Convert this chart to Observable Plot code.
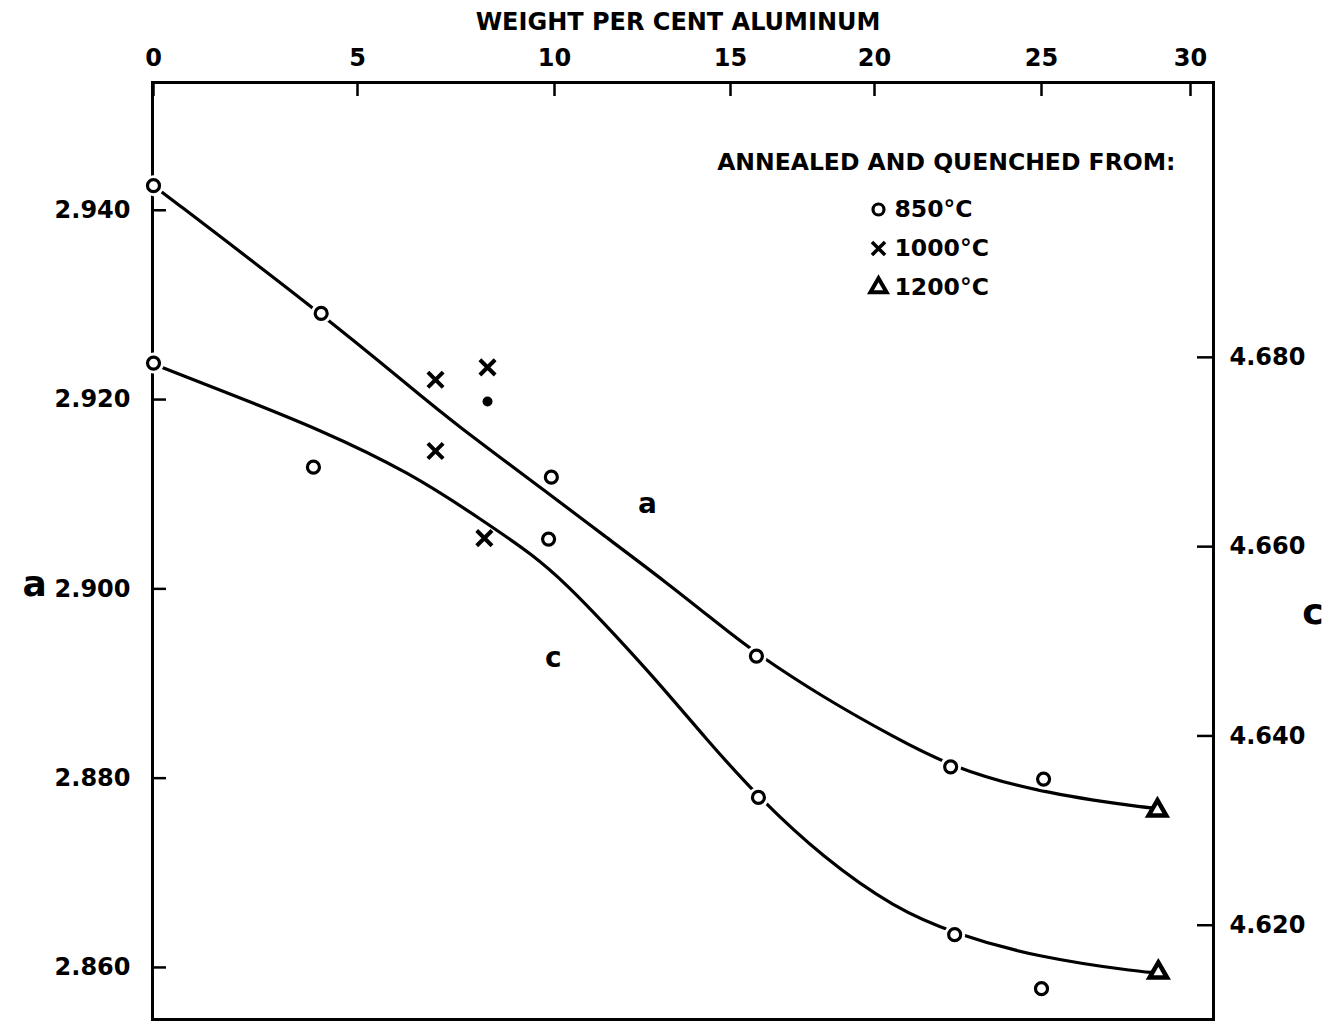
<!DOCTYPE html>
<html><head><meta charset="utf-8">
<script src="https://cdn.jsdelivr.net/npm/d3@7"></script>
<script src="https://cdn.jsdelivr.net/npm/@observablehq/plot@0.6"></script>
<style>html,body{margin:0;padding:0;background:#fff;} #chart svg{display:block;}</style>
</head><body><div id="chart"></div>
<script>
// ---- axis ticks ----
const xTicks = [0, 5, 10, 15, 20, 25, 30];            // weight per cent aluminum
const aTicks = [2.860, 2.880, 2.900, 2.920, 2.940];   // left axis (a)
const cTicks = [4.620, 4.640, 4.660, 4.680];          // right axis (c)
const C_OFFSET = 1.75554;  // c value minus a value at the same height

// ---- measured points: w = wt.% Al, v = lattice parameter ----
const a850 = [
  {w: 0, v: 2.9426}, {w: 4.11, v: 2.9291}, {w: 9.92, v: 2.9118},
  {w: 15.9, v: 2.8929}, {w: 22.28, v: 2.8812}, {w: 25.07, v: 2.8799}
];
const c850 = [
  {w: 0, v: 4.6794}, {w: 3.92, v: 4.6684}, {w: 9.85, v: 4.6608},
  {w: 15.97, v: 4.6335}, {w: 22.4, v: 4.6190}, {w: 25.0, v: 4.6133}
];
const a1000 = [{w: 6.98, v: 2.9221}, {w: 8.30, v: 2.9234}];
const c1000 = [{w: 6.98, v: 4.6701}, {w: 8.22, v: 4.6609}];
const blot1000 = [{w: 8.30, v: 2.9198}];
const a1200 = [{w: 28.89, v: 2.8766}];
const c1200 = [{w: 28.92, v: 4.6150}];

// ---- fitted curves ----
const curveA = [
  {w: 0, v: 2.9426}, {w: 4.11, v: 2.9291}, {w: 6.35, v: 2.9213}, {w: 7.36, v: 2.9178},
  {w: 9.97, v: 2.9097}, {w: 11.31, v: 2.9059}, {w: 13.21, v: 2.9006}, {w: 14.72, v: 2.8961},
  {w: 15.83, v: 2.8933}, {w: 18.23, v: 2.8885}, {w: 20.60, v: 2.8843}, {w: 22.28, v: 2.8812},
  {w: 24.88, v: 2.8785}, {w: 28.46, v: 2.8769}, {w: 28.89, v: 2.8768}
];
const curveC = [
  {w: 0, v: 4.6793}, {w: 1.95, v: 4.6760}, {w: 4.01, v: 4.6725}, {w: 6.35, v: 4.6678},
  {w: 8.20, v: 4.6627}, {w: 9.47, v: 4.6591}, {w: 10.37, v: 4.6559}, {w: 11.31, v: 4.6523},
  {w: 12.73, v: 4.6466}, {w: 14.35, v: 4.6395}, {w: 15.97, v: 4.6335}, {w: 18.23, v: 4.6271},
  {w: 20.60, v: 4.6218}, {w: 22.40, v: 4.6191}, {w: 24.88, v: 4.6166}, {w: 28.46, v: 4.6150},
  {w: 28.89, v: 4.6150}
];

// ---- texts ----
const xTitle = "WEIGHT PER CENT ALUMINUM";
const legendTitle = "ANNEALED AND QUENCHED FROM:";
const legendLabels = ["850°C", "1000°C", "1200°C"];
const legendSymbols = ["circle", "times", "triangle"];
const curveLabels = [{w: 12.64, v: 2.90893, t: "a"}, {w: 9.97, v: 4.6482 - C_OFFSET, t: "c"}];

const FONT = "DejaVu Sans";
const cy = d => d.v - C_OFFSET;
const txt = {fontFamily: FONT, fontWeight: "bold", fill: "black", lineAnchor: "middle"};

const legendMarks = legendLabels.flatMap((lab, i) => {
  const dy = 127 + i * 39;
  const sym = legendSymbols[i];
  const symOpts = sym === "circle" ? {r: 5.5, strokeWidth: 3.2, fill: "white"}
                : sym === "times" ? {r: 6, strokeWidth: 3.5}
                : {r: 6, strokeWidth: 4, fill: "white"};
  return [
    Plot.dot([lab], {frameAnchor: "top-left", dx: 726, dy, symbol: sym, stroke: "black", ...symOpts}),
    Plot.text([lab], {frameAnchor: "top-left", dx: 742, dy, textAnchor: "start", fontSize: 23.5, ...txt})
  ];
});

const chart = Plot.plot({
  width: 1337, height: 1030,
  marginLeft: 152, marginRight: 124, marginTop: 82, marginBottom: 11,
  x: {type: "linear", domain: xTicks, range: [153, 357, 554, 730, 874, 1041, 1190]},
  y: {domain: [2.8545, 2.9535]},
  style: {fontFamily: FONT, fontWeight: "bold", fontSize: "24px", color: "black", background: "white"},
  marks: [
    Plot.frame({stroke: "black", strokeWidth: 3}),
    Plot.tickX(xTicks, {x: d => d, insetBottom: 937 - 14, strokeWidth: 2.5}),
    Plot.tickY(aTicks, {y: d => d, insetRight: 1061 - 14, strokeWidth: 2.5}),
    Plot.tickY(cTicks, {y: d => d - C_OFFSET, insetLeft: 1061 - 16, strokeWidth: 2.5}),
    Plot.axisX({anchor: "top", ticks: xTicks, tickSize: 0, tickPadding: 17, label: null,
      tickFormat: d => String(d), fontSize: 24, fontFamily: FONT, fontWeight: "bold"}),
    Plot.axisY({anchor: "left", ticks: aTicks, tickSize: 0, tickPadding: 22, label: null,
      tickFormat: d => d.toFixed(3), fontSize: 24, fontFamily: FONT, fontWeight: "bold"}),
    Plot.axisY({anchor: "right", ticks: cTicks.map(c => c - C_OFFSET), tickSize: 0, tickPadding: 16, label: null,
      tickFormat: d => (d + C_OFFSET).toFixed(3), fontSize: 24, fontFamily: FONT, fontWeight: "bold"}),
    Plot.text([xTitle], {frameAnchor: "top", dx: -5, dy: -60, fontSize: 24, ...txt}),
    Plot.text(["a"], {frameAnchor: "left", y: 2.900, dx: -130, dy: -4, fontSize: 36, ...txt}),
    Plot.text(["c"], {frameAnchor: "right", y: 4.653 - C_OFFSET, dx: 110, fontSize: 36, ...txt}),
    Plot.line(curveA, {x: "w", y: "v", curve: "basis", stroke: "black", strokeWidth: 3.2}),
    Plot.line(curveC, {x: "w", y: cy, curve: "basis", stroke: "black", strokeWidth: 3.2}),
    // white halos break the lines around the 850°C circles
    Plot.dot(a850, {x: "w", y: "v", r: 10.5, fill: "white"}),
    Plot.dot(c850, {x: "w", y: cy, r: 10.5, fill: "white"}),
    Plot.dot(a850, {x: "w", y: "v", r: 6, stroke: "black", strokeWidth: 3.2, fill: "white"}),
    Plot.dot(c850, {x: "w", y: cy, r: 6, stroke: "black", strokeWidth: 3.2, fill: "white"}),
    Plot.dot(a1000, {x: "w", y: "v", symbol: "times", r: 7, stroke: "black", strokeWidth: 4}),
    Plot.dot(c1000, {x: "w", y: cy, symbol: "times", r: 7, stroke: "black", strokeWidth: 4}),
    Plot.dot(blot1000, {x: "w", y: "v", r: 5, fill: "black"}),
    Plot.dot(a1200, {x: "w", y: "v", symbol: "triangle", r: 6.5, stroke: "black", strokeWidth: 4.5, fill: "white"}),
    Plot.dot(c1200, {x: "w", y: cy, symbol: "triangle", r: 6.5, stroke: "black", strokeWidth: 4.5, fill: "white"}),
    Plot.text(curveLabels, {x: "w", y: "v", text: "t", fontSize: 28, ...txt}),
    Plot.text([legendTitle], {frameAnchor: "top-right", dx: -38, dy: 80, textAnchor: "end", fontSize: 23.5, ...txt}),
    ...legendMarks
  ]
});
document.getElementById("chart").append(chart);
</script>
</body></html>
